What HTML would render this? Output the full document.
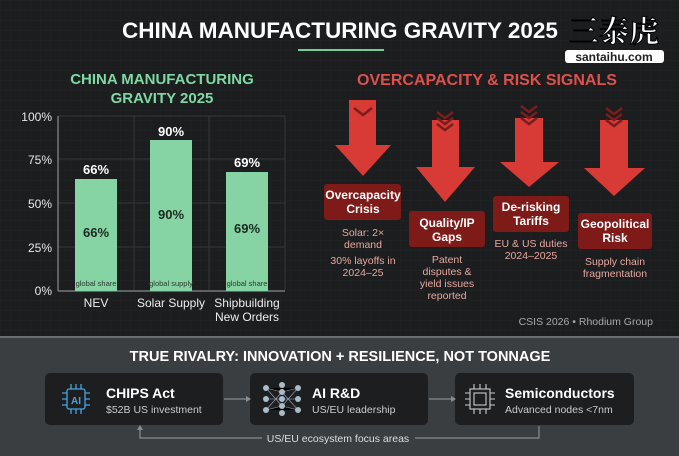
<!DOCTYPE html>
<html><head><meta charset="utf-8"><style>
body{margin:0;width:679px;height:456px;overflow:hidden;background:#1b1d1f;}
svg{display:block;font-family:"Liberation Sans",sans-serif;}
</style></head><body>
<svg width="679" height="456" viewBox="0 0 679 456">
<defs>
<pattern id="g" width="10" height="10" patternUnits="userSpaceOnUse"><path d="M10 0H0V10" fill="none" stroke="#25282a" stroke-width="1"/></pattern>
</defs>
<rect width="679" height="338" fill="#1b1d1f"/>
<rect width="679" height="338" fill="url(#g)" opacity="0.6"/>
<text x="340" y="38" text-anchor="middle" fill="#fff" font-size="22.5" font-weight="bold">CHINA MANUFACTURING GRAVITY 2025</text>
<rect x="298" y="49" width="86" height="2" fill="#6fcf9a"/>
<text x="614" y="42" text-anchor="middle" fill="#fff" stroke="#000" stroke-width="1" font-size="30" font-family="'Noto Serif CJK SC',serif" font-weight="bold">三泰虎</text>
<rect x="565" y="50" width="99" height="13" rx="3" fill="#fff"/>
<text x="614" y="61" text-anchor="middle" fill="#222" font-size="12" font-weight="bold">santaihu.com</text>

<text x="162" y="84" text-anchor="middle" fill="#7fd9a3" font-size="15" font-weight="bold">CHINA MANUFACTURING</text>
<text x="162" y="103" text-anchor="middle" fill="#7fd9a3" font-size="15" font-weight="bold">GRAVITY 2025</text>
<g stroke="#34383a" stroke-width="1">
<line x1="58" y1="116" x2="285" y2="116"/><line x1="58" y1="159" x2="285" y2="159"/><line x1="58" y1="203" x2="285" y2="203"/><line x1="58" y1="247" x2="285" y2="247"/>
<line x1="134" y1="116" x2="134" y2="290"/><line x1="209" y1="116" x2="209" y2="290"/><line x1="285" y1="116" x2="285" y2="290"/>
</g>
<line x1="58" y1="116" x2="58" y2="291" stroke="#777" stroke-width="1.5"/>
<line x1="58" y1="291" x2="285" y2="291" stroke="#777" stroke-width="1.5"/>
<g fill="#e8e8e8" font-size="12" text-anchor="end">
<text x="52" y="121">100%</text><text x="52" y="164">75%</text><text x="52" y="208">50%</text><text x="52" y="252">25%</text><text x="52" y="295">0%</text></g>
<g fill="#86d3a4"><rect x="75" y="179" width="42" height="112"/><rect x="150" y="140" width="42" height="151"/><rect x="226" y="172" width="42" height="119"/></g>
<g fill="#fff" font-size="13" font-weight="bold" text-anchor="middle"><text x="96" y="174">66%</text><text x="171" y="136">90%</text><text x="247" y="167">69%</text></g>
<g fill="#1a2a20" font-size="13" font-weight="bold" text-anchor="middle"><text x="96" y="237">66%</text><text x="171" y="219">90%</text><text x="247" y="233">69%</text></g>
<g fill="#2b3b30" font-size="7.5" text-anchor="middle"><text x="96" y="286">global share</text><text x="171" y="286">global supply</text><text x="247" y="286">global share</text></g>
<g fill="#eee" font-size="12" text-anchor="middle"><text x="96" y="307">NEV</text><text x="171" y="307">Solar Supply</text><text x="247" y="307">Shipbuilding</text><text x="247" y="321">New Orders</text></g>

<text x="487" y="85" text-anchor="middle" fill="#e0504a" font-size="16" font-weight="bold">OVERCAPACITY &amp; RISK SIGNALS</text>
<g fill="#d83a36">
<path d="M349 100h27v45h15l-28 31l-28-31h14z"/>
<path d="M432 120h27v47h16l-30 35l-29-35h16z"/>
<path d="M515 118h28v44h16l-30 25l-29-25h15z"/>
<path d="M600 120h28v48h17l-31 28l-30-28h16z"/>
</g>
<g fill="none" stroke="#7a1d1d" stroke-width="2.5">
<path d="M354 108l9 7l9-7"/>
<path d="M437 112l8 6l8-6M437 118l8 6l8-6M437 124l8 6l8-6"/>
<path d="M521 106l8 6l8-6M521 112l8 6l8-6M521 118l8 6l8-6"/>
<path d="M606 108l8 6l8-6M606 114l8 6l8-6M606 120l8 6l8-6"/>
</g>
<g fill="#7e1a18"><rect x="324" y="184" width="77" height="36" rx="3"/><rect x="409" y="211" width="76" height="36" rx="3"/><rect x="493" y="196" width="76" height="36" rx="3"/><rect x="578" y="213" width="74" height="36" rx="3"/></g>
<g fill="#fff" font-size="12" font-weight="bold" text-anchor="middle">
<text x="363" y="199">Overcapacity</text><text x="363" y="213">Crisis</text>
<text x="447" y="227">Quality/IP</text><text x="447" y="241">Gaps</text>
<text x="531" y="211">De-risking</text><text x="531" y="225">Tariffs</text>
<text x="615" y="228">Geopolitical</text><text x="615" y="242">Risk</text></g>
<g fill="#e8a8a0" font-size="10.5" text-anchor="middle">
<text x="363" y="236">Solar: 2×</text><text x="363" y="248">demand</text><text x="363" y="264">30% layoffs in</text><text x="363" y="276">2024–25</text>
<text x="447" y="263">Patent</text><text x="447" y="275">disputes &amp;</text><text x="447" y="287">yield issues</text><text x="447" y="299">reported</text>
<text x="531" y="247">EU &amp; US duties</text><text x="531" y="259">2024–2025</text>
<text x="615" y="265">Supply chain</text><text x="615" y="277">fragmentation</text></g>
<text x="653" y="325" text-anchor="end" fill="#aaa" font-size="10.5">CSIS 2026 • Rhodium Group</text>

<rect x="0" y="337" width="679" height="119" fill="#3b3e41"/>
<rect x="0" y="336" width="679" height="2" fill="#6a6d70"/>
<text x="340" y="361" text-anchor="middle" fill="#fff" font-size="14.5" font-weight="bold">TRUE RIVALRY: INNOVATION + RESILIENCE, NOT TONNAGE</text>
<g fill="#1c1e20"><rect x="45" y="373" width="178" height="52" rx="5"/><rect x="250" y="373" width="178" height="52" rx="5"/><rect x="455" y="373" width="179" height="52" rx="5"/></g>
<g stroke="#8a8d90" stroke-width="1.2" fill="none">
<path d="M224 399h22"/><path d="M429 399h22"/>
<path d="M140 428v10h122M415 438h124v-12"/>
</g>
<g fill="#8a8d90"><path d="M246 396l5 3l-5 3z"/><path d="M451 396l5 3l-5 3z"/><path d="M137 430l3-5l3 5z"/></g>
<text x="338" y="442" text-anchor="middle" fill="#ddd" font-size="10.5">US/EU ecosystem focus areas</text>
<g stroke="#4aa3df" stroke-width="1.3" fill="none"><rect x="67" y="389" width="18" height="20" rx="2"/><path d="M62 393h5M62 399h5M62 405h5M85 393h5M85 399h5M85 405h5M71 384v5M76 384v5M81 384v5M71 409v5M76 409v5M81 409v5"/></g>
<text x="76" y="404" text-anchor="middle" fill="#4aa3df" font-size="10" font-weight="bold">AI</text>
<g stroke="#9ab" stroke-width="0.6"><path d="M266 388L282 392L298 388M266 399L282 399L298 399M266 410L282 406L298 410M266 388L282 406M266 410L282 392M282 392L298 410M282 406L298 388"/></g>
<g fill="#a9bcc8"><circle cx="266" cy="388" r="3"/><circle cx="266" cy="399" r="3"/><circle cx="266" cy="410" r="3"/><circle cx="282" cy="385" r="3"/><circle cx="282" cy="392" r="3"/><circle cx="282" cy="399" r="3"/><circle cx="282" cy="406" r="3"/><circle cx="282" cy="413" r="3"/><circle cx="298" cy="388" r="3"/><circle cx="298" cy="399" r="3"/><circle cx="298" cy="410" r="3"/></g>
<g stroke="#ccc" stroke-width="1.1" fill="none"><rect x="470" y="389" width="20" height="20"/><rect x="474" y="393" width="12" height="12"/><path d="M465 393h5M465 399h5M465 405h5M490 393h5M490 399h5M490 405h5M474 384v5M480 384v5M486 384v5M474 409v5M480 409v5M486 409v5"/></g>
<g fill="#fff" font-size="14" font-weight="bold"><text x="106" y="398">CHIPS Act</text><text x="312" y="398">AI R&amp;D</text><text x="505" y="398">Semiconductors</text></g>
<g fill="#ccc" font-size="10.5"><text x="106" y="413">$52B US investment</text><text x="312" y="413">US/EU leadership</text><text x="505" y="413">Advanced nodes &lt;7nm</text></g>
</svg>
</body></html>
